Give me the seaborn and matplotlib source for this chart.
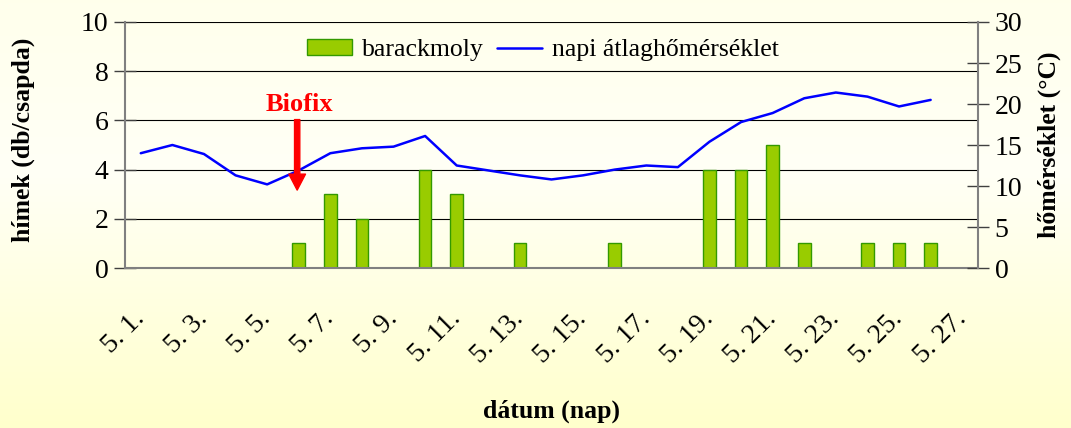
# Barackmoly fogás és napi átlaghőmérséklet (május)

import numpy as np
import pandas as pd
import seaborn as sns
import matplotlib.pyplot as plt

# Napok (5. 1. - 5. 27.)
napok = [f"5. {d}." for d in range(1, 28)]

# Barackmoly hímek (db/csapda) - csak a fogásos napok
fogas_napok = ["5. 6.", "5. 7.", "5. 8.", "5. 10.", "5. 11.", "5. 13.", "5. 16.",
               "5. 19.", "5. 20.", "5. 21.", "5. 22.", "5. 24.", "5. 25.", "5. 26."]
fogas = [1, 3, 2, 4, 3, 1, 1, 4, 4, 5, 1, 1, 1, 1]

# Napi átlaghőmérséklet (°C), 5. 1. - 5. 26.
homerseklet = [14.0, 15.0, 13.9, 11.3, 10.2, 11.9, 14.0, 14.6, 14.8, 16.1,
               12.5, 11.9, 11.3, 10.8, 11.3, 12.0, 12.5, 12.3, 15.4, 17.8,
               18.9, 20.7, 21.4, 20.9, 19.7, 20.5]

bar_df = pd.DataFrame({"nap": fogas_napok, "db": fogas})
line_df = pd.DataFrame({"pos": np.arange(len(homerseklet)), "temp": homerseklet})

sns.set_style("white")
plt.rcParams['font.family'] = ['Liberation Serif', 'DejaVu Serif']
plt.rcParams['text.color'] = 'black'
plt.rcParams['xtick.color'] = 'black'
plt.rcParams['ytick.color'] = 'black'
plt.rcParams['axes.labelcolor'] = 'black'

fig = plt.figure(figsize=(10.71, 4.28), dpi=100)

# háttér színátmenet
bg = fig.add_axes([0, 0, 1, 1], zorder=-10)
top = np.array([1.0, 1.0, 0.925])
mid = np.array([1.0, 1.0, 0.965])
bot = np.array([1.0, 1.0, 0.80])
t = np.linspace(0, 1, 200)[:, None]
grad = np.where(t < 0.4, top + (mid - top) * (t / 0.4), mid + (bot - mid) * ((t - 0.4) / 0.6))
bg.imshow(grad[:, None, :], aspect='auto', extent=[0, 1, 0, 1])
bg.axis('off')

ax = fig.add_axes([0.1167, 0.3738, 0.7965, 0.5748])
ax.set_facecolor('none')

sns.barplot(data=bar_df, x="nap", y="db", order=napok, width=0.4, color="#99CC00",
            edgecolor="#339900", linewidth=1, saturation=1, ax=ax, label="barackmoly")
if ax.get_legend() is not None:
    ax.get_legend().remove()

ax.set_ylim(0, 10)
ax.set_xlim(-0.5, len(napok) - 0.5)
ax.set_yticks(range(0, 11, 2))
ax.yaxis.grid(True, color='black', linewidth=0.8)
ax.set_axisbelow(True)
ax.set_xlabel("")
ax.set_ylabel("")

# x tengely: osztások a kategóriák között, címkék minden második napnál
ax.set_xticks(np.arange(-0.5, len(napok) - 1, 2))
ax.set_xticklabels([])
ax.set_xticks(np.arange(0, len(napok), 2), minor=True)
ax.set_xticklabels(napok[::2], minor=True, fontsize=20)
ax.tick_params(axis='x', which='major', direction='inout', length=18, width=1, color='#404040')
ax.tick_params(axis='x', which='minor', length=0, pad=34)
plt.setp(ax.get_xticklabels(minor=True), rotation=45, ha='right', va='center',
         rotation_mode='anchor')
ax.tick_params(axis='y', direction='inout', length=16, width=1, color='#404040', labelsize=20, pad=4)

for s in ['top', 'right']:
    ax.spines[s].set_visible(False)
for s in ['left', 'bottom']:
    ax.spines[s].set_color('#808080')
    ax.spines[s].set_linewidth(1.5)

# hőmérséklet a jobb tengelyen
ax2 = ax.twinx()
sns.lineplot(data=line_df, x="pos", y="temp", color="#0000FF", linewidth=1.8, ax=ax2,
             label="napi átlaghőmérséklet")
ax2.set_ylim(0, 30)
ax2.set_xlim(-0.5, len(napok) - 0.5)
ax2.set_yticks(range(0, 31, 5))
ax2.set_ylabel("")
ax2.set_xlabel("")
ax2.tick_params(axis='y', direction='inout', length=16, width=1, color='#404040', labelsize=20, pad=4)
for s in ['top', 'left', 'bottom']:
    ax2.spines[s].set_visible(False)
ax2.spines['right'].set_color('#808080')
ax2.spines['right'].set_linewidth(1.5)

# jelmagyarázat
h1, l1 = ax.get_legend_handles_labels()
h2, l2 = ax2.get_legend_handles_labels()
ax2.legend(h1 + h2, l1 + l2, loc='center', bbox_to_anchor=(0.49, 0.885), ncol=2,
           frameon=False, fontsize=18.5, handlelength=1.75, handleheight=0.6,
           handletextpad=0.4, columnspacing=0.5)

# Biofix nyíl
ax2.annotate("", xy=(4.95, 9.5), xytext=(4.95, 18.1),
             arrowprops=dict(facecolor='red', edgecolor='red', width=3.8, headwidth=12,
                             headlength=11.5, shrink=0), zorder=5)
ax2.text(5.03, 19.9, "Biofix", color='red', fontsize=19, fontweight='bold',
         ha='center', va='center', zorder=5)

# tengelyfeliratok
fig.text(0.0215, 0.673, "hímek (db/csapda)", rotation=90, fontsize=18.5,
         fontweight='bold', ha='center', va='center')
fig.text(0.980, 0.661, "hőmérséklet (°C)", rotation=90, fontsize=18.5,
         fontweight='bold', ha='center', va='center')
fig.text(0.5145, 0.040, "dátum (nap)", fontsize=18.5, fontweight='bold',
         ha='center', va='center')

fig.savefig("out.png", dpi=100)
